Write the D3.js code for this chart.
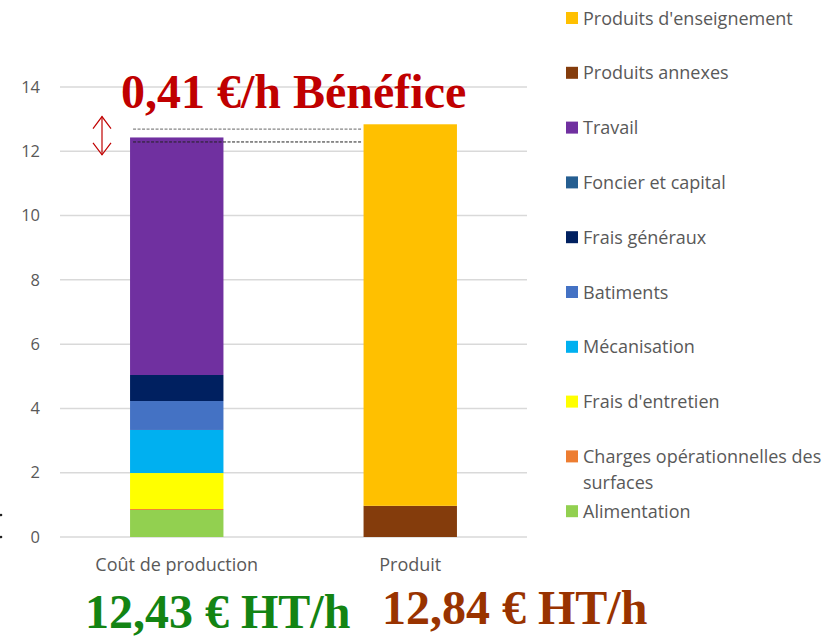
<!DOCTYPE html>
<html>
<head>
<meta charset="utf-8">
<script src="https://cdn.jsdelivr.net/npm/d3@7"></script>
<style>
  body { margin: 0; background: #fff; }
  svg text { font-family: "Open Sans", "Liberation Sans", sans-serif; fill: #595959; }
  .big { font-family: "Liberation Serif", "Times New Roman", serif; font-weight: bold; }
</style>
</head>
<body>
<div id="chart"></div>
<script>
// données
const categories = ["Coût de production", "Produit"];
const series = ["Alimentation", "Charges opérationnelles des surfaces", "Frais d'entretien",
  "Mécanisation", "Batiments", "Frais généraux", "Foncier et capital", "Travail",
  "Produits annexes", "Produits d'enseignement"];
const legendLines = [["Alimentation"], ["Charges opérationnelles des", "surfaces"], ["Frais d'entretien"],
  ["Mécanisation"], ["Batiments"], ["Frais généraux"], ["Foncier et capital"], ["Travail"],
  ["Produits annexes"], ["Produits d'enseignement"]];
const coutValues = [0.84, 0.03, 1.12, 1.34, 0.90, 0.81, 0, 7.39, 0, 0];
const produitValues = [0, 0, 0, 0, 0, 0, 0, 0, 0.97, 11.87];
const colors = ["#92D050", "#ED7D31", "#FFFF00", "#00B0F0", "#4472C4", "#002060",
  "#255E91", "#7030A0", "#843C0C", "#FFC000"];
const yTicks = [0, 2, 4, 6, 8, 10, 12, 14];
const benefice = 0.41;
const totals = ["12,43 € HT/h", "12,84 € HT/h"];
const dashLevels = [12.69, 12.29];
const arrowRange = [13.08, 11.89];

const width = 828, height = 639;
const svg = d3.select("#chart").append("svg")
  .attr("width", width).attr("height", height);

const x = d3.scaleBand().domain(categories).range([60, 527])
  .paddingInner(0.6).paddingOuter(0.3);
const y = d3.scaleLinear().domain([0, 14]).range([537, 87]);

// grille
svg.append("g").selectAll("line").data(yTicks).enter().append("line")
  .attr("x1", 60).attr("x2", 527)
  .attr("y1", d => y(d)).attr("y2", d => y(d))
  .attr("stroke", "#d9d9d9").attr("stroke-width", 1.5);

// axe Y
const yAxis = svg.append("g").attr("transform", "translate(40,0)")
  .call(d3.axisLeft(y).tickValues(yTicks).tickSize(0).tickPadding(0));
yAxis.select(".domain").remove();
yAxis.selectAll("text").style("font-size", "16.5px").attr("fill", "#595959")
  .style("font-family", "'Open Sans', sans-serif");

// axe X
const xAxis = svg.append("g").attr("transform", "translate(0,537)")
  .call(d3.axisBottom(x).tickSize(0).tickPadding(21));
xAxis.select(".domain").remove();
xAxis.selectAll("text").style("font-size", "18px").attr("fill", "#595959")
  .style("font-family", "'Open Sans', sans-serif");

// barres empilées
const rows = categories.map((c, i) => {
  const row = { cat: c };
  series.forEach((s, j) => { row[s] = i === 0 ? coutValues[j] : produitValues[j]; });
  return row;
});
const stacked = d3.stack().keys(series)(rows);
svg.append("g").selectAll("g").data(stacked).enter().append("g")
  .attr("fill", (d, i) => colors[i])
  .selectAll("rect").data(d => d).enter().append("rect")
  .attr("x", d => x(d.data.cat))
  .attr("width", x.bandwidth())
  .attr("y", d => y(d[1]))
  .attr("height", d => y(d[0]) - y(d[1]));

// lignes pointillées
const x0 = x(categories[0]) + 3, x1 = x(categories[1]) - 1;
svg.append("g").selectAll("line").data(dashLevels).enter().append("line")
  .attr("x1", x0).attr("x2", x1)
  .attr("y1", d => y(d)).attr("y2", d => y(d))
  .attr("stroke", (d, i) => i === 0 ? "#666" : "#222")
  .attr("stroke-width", 1)
  .attr("stroke-dasharray", "3,1.5");

// flèche double
const ax = 102;
const ya = y(arrowRange[0]), yb = y(arrowRange[1]);
const arrow = svg.append("g").attr("stroke", "#C00000").attr("stroke-width", 1.2).attr("fill", "none");
arrow.append("line").attr("x1", ax).attr("x2", ax).attr("y1", ya).attr("y2", yb);
arrow.append("path").attr("d", `M${ax - 9},${ya + 12} L${ax},${ya} L${ax + 9},${ya + 12}`);
arrow.append("path").attr("d", `M${ax - 9},${yb - 12} L${ax},${yb} L${ax + 9},${yb - 12}`);

// titre bénéfice
svg.append("text").attr("class", "big")
  .attr("x", 121).attr("y", 108)
  .style("font-size", "48px").style("fill", "#C00000")
  .text(d3.format(".2f")(benefice).replace(".", ",") + " €/h Bénéfice");

// totaux
svg.append("text").attr("class", "big")
  .attr("x", 85).attr("y", 628)
  .style("font-size", "48px").style("fill", "#138413")
  .text(totals[0]);
svg.append("text").attr("class", "big")
  .attr("x", 382).attr("y", 624)
  .style("font-size", "48px").style("fill", "#993300")
  .text(totals[1]);

// légende
const legendStep = 54.8;
const legend = svg.append("g").selectAll("g").data(series.map((s, i) => i).reverse())
  .enter().append("g")
  .attr("transform", (d, k) => `translate(566,${18 + k * legendStep})`);
legend.append("rect").attr("x", 0).attr("y", -6).attr("width", 12).attr("height", 12)
  .attr("fill", d => colors[d]);
legend.append("text").attr("x", 17).attr("y", 6.5)
  .style("font-size", "18px")
  .selectAll("tspan").data(d => legendLines[d]).enter().append("tspan")
  .attr("x", 17).attr("dy", (d, i) => i === 0 ? 0 : 26)
  .text(d => d);

// petits points en bord gauche
svg.append("g").selectAll("circle").data([515, 537]).enter().append("circle")
  .attr("cx", 1).attr("cy", d => d).attr("r", 1.3).attr("fill", "#222");
</script>
</body>
</html>
